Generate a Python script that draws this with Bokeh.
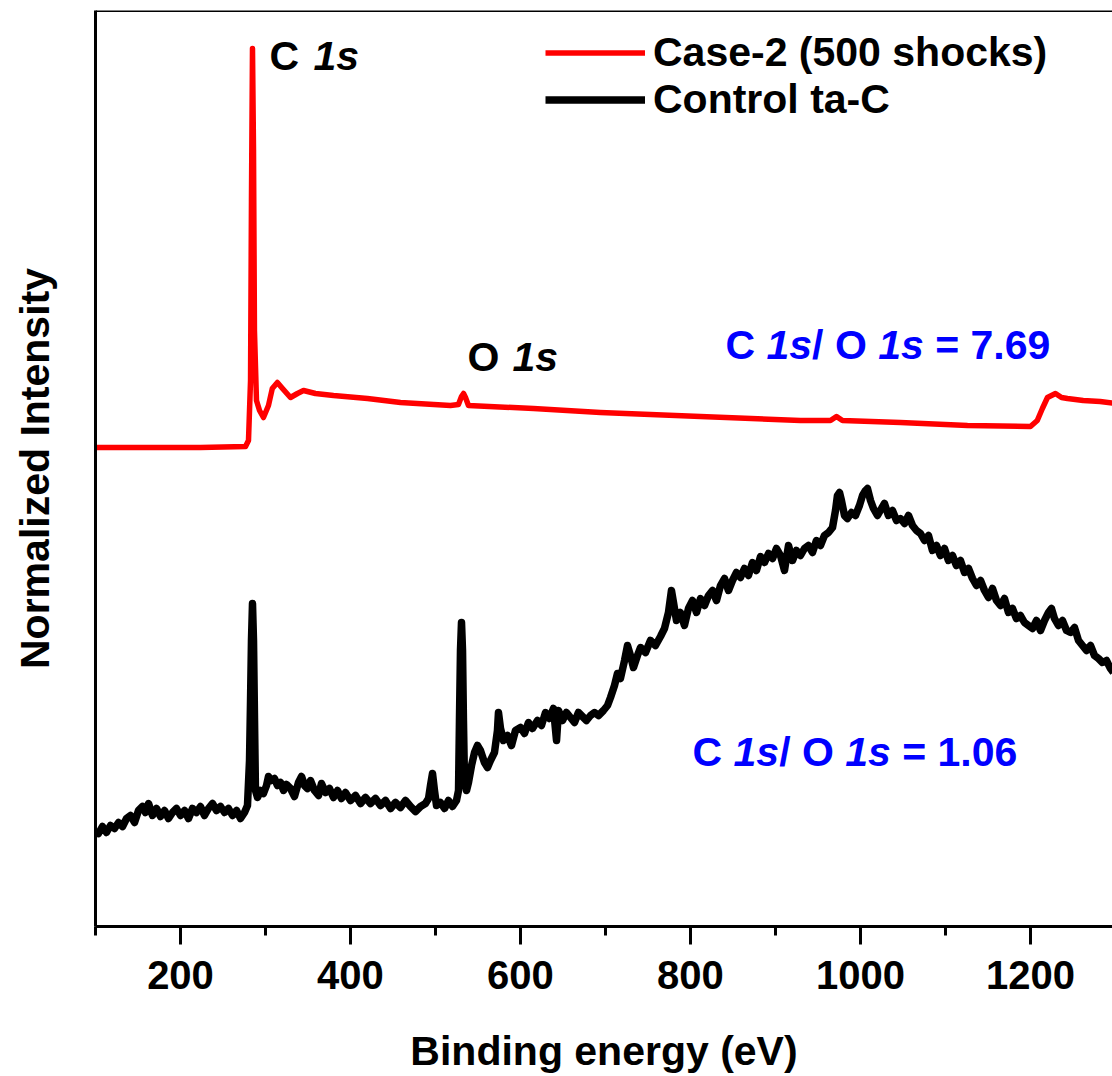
from bokeh.plotting import figure
from bokeh.models import (Range1d, LinearAxis, SingleIntervalTicker, FixedTicker,
                          Legend, LegendItem, Label, Span)
from bokeh.embed import file_html
from bokeh.resources import INLINE

FONT = "Liberation Sans"

# ---------------- data ----------------
x_major_interval = 200

red_energy = [100, 223.5, 276.5, 280, 282.4, 283.5, 284.7, 285.9, 287, 289.4,
              293, 297.6, 303.5, 308, 314, 320, 329.4, 337.6, 344.7, 358.8,
              380, 420, 458.8, 517.6, 527, 530.6, 533, 535.3, 538.8, 615.3,
              694, 811.8, 929.4, 964.7, 971.8, 978.8, 1047, 1125.9, 1200, 1208,
              1214, 1220, 1229.4, 1236.5, 1243.5, 1262, 1282, 1300]
red_intensity = [481, 481, 482, 488, 548, 728, 880, 778, 598, 528,
                 518, 511, 523, 540, 546, 540, 531, 535, 538, 535,
                 533, 530, 526, 523, 524, 532, 535, 531, 523, 520,
                 516, 512, 508, 508, 512, 508, 506, 503, 502, 508,
                 520, 531, 535, 531, 530, 528, 527, 525]

black_energy = [
    100.0, 103.5, 108.2, 112.9, 117.6, 122.4, 127.1, 131.8, 136.5, 141.2,
    145.9, 150.6, 155.3, 158.8, 162.4, 167.1, 171.8, 176.5, 181.2, 185.9,
    190.6, 195.3, 200.0, 204.7, 209.4, 214.1, 218.8, 223.5, 228.2, 232.9,
    237.6, 242.4, 247.1, 251.8, 256.5, 261.2, 265.9, 270.6, 275.3, 278.8,
    281.2, 282.4, 283.5, 284.7, 285.9, 287.1, 288.2, 290.6, 294.1, 297.6,
    301.2, 303.5, 307.1, 310.6, 314.1, 317.6, 321.2, 324.7, 329.4, 334.1,
    338.8, 342.4, 345.9, 349.4, 352.9, 357.6, 362.4, 365.9, 370.6, 375.3,
    380.0, 384.7, 389.4, 394.1, 400.0, 405.9, 411.8, 417.6, 423.5, 429.4,
    435.3, 441.2, 447.1, 452.9, 458.8, 464.7, 470.6, 476.5, 482.4, 488.2,
    491.8, 494.1, 496.5, 498.8, 501.2, 505.9, 510.6, 515.3, 520.0, 524.7,
    527.1, 528.2, 529.4, 530.6, 531.8, 532.9, 534.1, 536.5, 538.8, 542.4,
    545.9, 549.4, 552.9, 557.6, 561.2, 564.7, 569.4, 572.9, 574.1, 576.5,
    580.0, 584.7, 589.4, 594.1, 600.0, 604.7, 609.4, 614.1, 620.0, 624.7,
    629.4, 634.1, 638.8, 642.4, 644.7, 649.4, 654.1, 658.8, 663.5, 668.2,
    672.9, 677.6, 682.4, 687.1, 691.8, 697.6, 702.4, 705.9, 710.6, 714.1,
    717.6, 722.4, 725.9, 729.4, 732.9, 737.6, 741.2, 747.1, 752.9, 758.8,
    764.7, 769.4, 774.1, 777.6, 780.0, 783.5, 788.2, 792.9, 797.6, 802.4,
    807.1, 811.8, 816.5, 821.2, 825.9, 830.6, 835.3, 840.0, 844.7, 849.4,
    854.1, 858.8, 863.5, 868.2, 872.9, 877.6, 882.4, 887.1, 891.8, 896.5,
    901.2, 905.9, 910.6, 915.3, 920.0, 924.7, 929.4, 934.1, 938.8, 943.5,
    948.2, 952.9, 957.6, 962.4, 967.1, 970.6, 972.9, 975.3, 977.6, 981.2,
    984.7, 989.4, 994.1, 998.8, 1002.4, 1005.9, 1008.2, 1011.8, 1015.3, 1020.0,
    1024.7, 1028.2, 1032.9, 1037.6, 1042.4, 1047.1, 1051.8, 1056.5, 1061.2, 1065.9,
    1070.6, 1075.3, 1080.0, 1084.7, 1089.4, 1094.1, 1098.8, 1103.5, 1108.2, 1112.9,
    1117.6, 1122.4, 1127.1, 1131.8, 1136.5, 1141.2, 1145.9, 1150.6, 1155.3, 1160.0,
    1164.7, 1169.4, 1174.1, 1178.8, 1183.5, 1188.2, 1192.9, 1197.6, 1202.4, 1207.1,
    1211.8, 1216.5, 1221.2, 1224.7, 1228.2, 1232.9, 1237.6, 1242.4, 1247.1, 1251.8,
    1256.5, 1261.2, 1265.9, 1270.6, 1275.3, 1280.0, 1284.7, 1289.4, 1294.1, 1297.6,
]
black_intensity = [
    98, 95, 102, 96, 103, 100, 106, 102, 110, 113,
    106, 118, 122, 116, 125, 113, 120, 112, 118, 110,
    116, 120, 113, 118, 110, 120, 116, 122, 113, 120,
    125, 118, 122, 116, 120, 113, 118, 110, 116, 123,
    168, 228, 288, 325, 288, 208, 138, 131, 138, 135,
    143, 152, 148, 150, 143, 146, 138, 144, 140, 132,
    146, 152, 143, 140, 148, 138, 133, 145, 136, 140,
    131, 138, 130, 136, 128, 133, 125, 131, 125, 130,
    123, 128, 120, 126, 121, 128, 122, 117, 122, 125,
    130, 143, 155, 138, 123, 126, 120, 128, 122, 128,
    138, 208, 278, 306, 278, 208, 148, 138, 146, 163,
    176, 183, 178, 166, 161, 168, 176, 198, 216, 200,
    188, 193, 183, 198, 201, 195, 206, 200, 208, 203,
    216, 210, 220, 188, 218, 208, 216, 211, 206, 216,
    212, 208, 213, 216, 213, 218, 223, 231, 243, 255,
    250, 268, 283, 273, 261, 273, 281, 276, 288, 283,
    292, 300, 316, 338, 326, 308, 316, 303, 320, 328,
    316, 330, 323, 333, 338, 328, 343, 350, 338, 348,
    356, 351, 360, 353, 366, 358, 372, 366, 375, 370,
    380, 373, 358, 383, 368, 378, 373, 380, 383, 376,
    388, 383, 393, 396, 401, 418, 433, 436, 428, 413,
    410, 416, 413, 423, 433, 438, 440, 428, 420, 413,
    420, 425, 413, 418, 408, 410, 405, 413, 403, 398,
    395, 388, 393, 378, 383, 373, 380, 368, 373, 363,
    368, 356, 360, 350, 343, 348, 338, 331, 340, 328,
    323, 330, 316, 320, 310, 313, 306, 303, 300, 308,
    298, 308, 316, 320, 310, 303, 308, 298, 296, 301,
    288, 283, 278, 283, 273, 270, 266, 268, 260, 256,
]

series_labels = ["Case-2 (500 shocks)", "Control ta-C"]
x_label = "Binding energy (eV)"
y_label = "Normalized Intensity"

# ---------------- figure ----------------
W, H = 1112, 1076
p = figure(width=W, height=H, output_backend="svg", toolbar_location=None,
           x_range=Range1d(100, 1296.5), y_range=Range1d(2, 918),
           x_axis_type=None, y_axis_type=None,
           min_border_left=95, min_border_right=0, min_border_top=10,
           min_border_bottom=148)
p.outline_line_color = None
p.background_fill_color = "white"
p.border_fill_color = "white"

xaxis = LinearAxis(ticker=SingleIntervalTicker(interval=x_major_interval, num_minor_ticks=2),
                   axis_label=x_label)
xaxis.axis_line_width = 3
xaxis.major_tick_line_width = 3
xaxis.minor_tick_line_width = 3
xaxis.major_tick_out = 18
xaxis.major_tick_in = 0
xaxis.minor_tick_out = 9
xaxis.minor_tick_in = 0
xaxis.major_label_text_font = FONT
xaxis.major_label_text_font_style = "bold"
xaxis.major_label_text_font_size = "40px"
xaxis.major_label_text_color = "black"
xaxis.major_label_standoff = 16
xaxis.axis_label_text_font = FONT
xaxis.axis_label_text_font_style = "bold"
xaxis.axis_label_text_font_size = "41px"
xaxis.axis_label_text_color = "black"
xaxis.axis_label_standoff = 36
p.add_layout(xaxis, "below")

yaxis = LinearAxis(ticker=FixedTicker(ticks=[]), axis_label=y_label)
yaxis.axis_line_width = 3
yaxis.major_tick_out = 0
yaxis.major_tick_in = 0
yaxis.minor_tick_out = 0
yaxis.major_label_standoff = 0
yaxis.axis_label_text_font = FONT
yaxis.axis_label_text_font_style = "bold"
yaxis.axis_label_text_font_size = "41px"
yaxis.axis_label_text_color = "black"
yaxis.axis_label_standoff = 38
p.add_layout(yaxis, "left")

# top spine (no right spine: the reference frame is cut at the right edge)
p.add_layout(Span(location=918, dimension="width", line_color="black", line_width=3))

r_red = p.line(red_energy, red_intensity, line_color="#FF0000", line_width=5.5,
               line_join="round")
r_black = p.line(black_energy, black_intensity, line_color="black", line_width=7.5,
                 line_join="round")

legend = Legend(items=[LegendItem(label=series_labels[0], renderers=[r_red]),
                       LegendItem(label=series_labels[1], renderers=[r_black])],
                location=(450, 803))
legend.border_line_color = None
legend.background_fill_alpha = 0
legend.padding = 0
legend.margin = 0
legend.spacing = 0
legend.glyph_width = 100
legend.glyph_height = 45
legend.label_height = 45
legend.label_standoff = 8
legend.label_text_font = FONT
legend.label_text_font_style = "bold"
legend.label_text_font_size = "41px"
legend.label_text_color = "black"
p.add_layout(legend)


def add_text(x, y, parts, color):
    offset = 0.0
    for text, italic, width in parts:
        p.add_layout(Label(x=x, y=y, x_offset=offset, text=text,
                           text_font=FONT,
                           text_font_style="bold italic" if italic else "bold",
                           text_font_size="41px", text_color=color,
                           text_baseline="alphabetic", text_align="left"))
        offset += width


add_text(304.7, 873, [("C", False, 44), ("1s", True, 46)], "black")
add_text(537.6, 572, [("O", False, 45), ("1s", True, 46)], "black")
ratio_parts_1 = [("C", False, 41), ("1s", True, 45.6), ("/ O", False, 66.1),
                 ("1s", True, 57), ("= 7.69", False, 115)]
ratio_parts_2 = [("C", False, 41), ("1s", True, 45.6), ("/ O", False, 66.1),
                 ("1s", True, 57), ("= 1.06", False, 115)]
add_text(841.2, 584, ratio_parts_1, "#0000FF")
add_text(802.4, 177, ratio_parts_2, "#0000FF")

open("out.html", "w").write(file_html(p, INLINE))
